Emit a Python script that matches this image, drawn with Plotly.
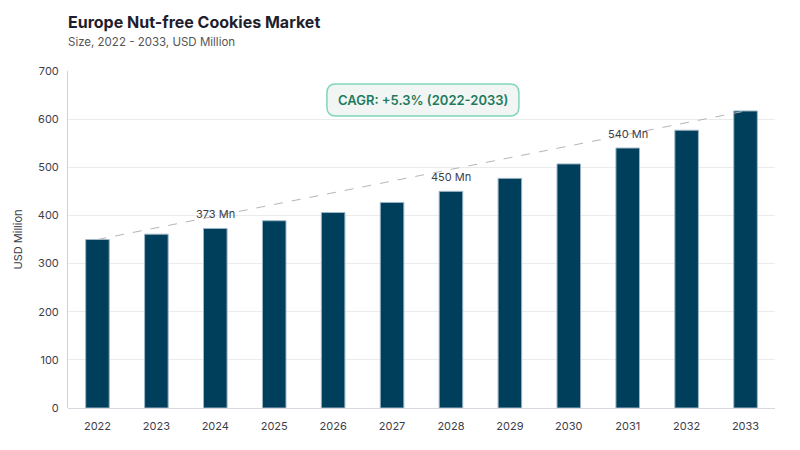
import plotly.graph_objects as go

# Market size data (USD Million)
years = ["2022", "2023", "2024", "2025", "2026", "2027", "2028", "2029", "2030", "2031", "2032", "2033"]
market_size = [350, 361, 373, 389, 406, 427, 450, 477, 507, 540, 577, 617]
label_years = ["2024", "2028", "2031"]
label_texts = ["373 Mn", "450 Mn", "540 Mn"]
cagr_text = "CAGR: +5.3% (2022-2033)"

FONT = "Inter"
BAR_COLOR = "#003f5c"

fig = go.Figure()

fig.add_trace(go.Bar(
    x=years, y=market_size,
    marker=dict(color=BAR_COLOR, line=dict(color="#9fb6c6", width=1)),
    width=0.4, hoverinfo="x+y", showlegend=False,
))

# dashed trend line from first to last bar top
fig.add_trace(go.Scatter(
    x=[years[0], years[-1]], y=[market_size[0], market_size[-1]],
    mode="lines", line=dict(color="#b5b5b5", width=1, dash="dash"),
    hoverinfo="skip", showlegend=False,
))

# value labels above selected bars (category index, string years get read as numbers)
for yr, txt in zip(label_years, label_texts):
    i = years.index(yr)
    fig.add_annotation(x=i, y=market_size[i], xref="x", yref="y", text=txt, showarrow=False,
                       yshift=14, font=dict(family=FONT, size=11, color="#3d3d4a"))

# rounded CAGR box
pw, ph = 707, 337
cx, cy = 0.502, 0.914
hw, hh = 96 / pw, 16 / ph
rx, ry = 9 / pw, 9 / ph
x0, x1, y0, y1 = cx - hw, cx + hw, cy - hh, cy + hh
path = (f"M {x0+rx},{y0} L {x1-rx},{y0} Q {x1},{y0} {x1},{y0+ry} "
        f"L {x1},{y1-ry} Q {x1},{y1} {x1-rx},{y1} L {x0+rx},{y1} "
        f"Q {x0},{y1} {x0},{y1-ry} L {x0},{y0+ry} Q {x0},{y0} {x0+rx},{y0} Z")
fig.add_shape(type="path", path=path, xref="paper", yref="paper",
              fillcolor="#f1f6f5", line=dict(color="#7fd6b9", width=1.5), layer="above")
fig.add_annotation(x=cx, y=cy, xref="paper", yref="paper", text=cagr_text, showarrow=False,
                   yanchor="middle", font=dict(family=FONT, size=13, color="#1f7a5c", weight=600))

# subtitle
fig.add_annotation(x=0, y=1 + 29 / ph, xref="paper", yref="paper", xanchor="left", yanchor="middle",
                   xshift=-2, text="Size, 2022 - 2033, USD Million", showarrow=False,
                   font=dict(family=FONT, size=11.5, color="#555555"))

# page body has an 8px margin, so plot margins are shifted back by 8
fig.update_layout(
    width=800, height=450,
    margin=dict(l=60, r=33, t=63, b=50, autoexpand=False),
    plot_bgcolor="white", paper_bgcolor="white",
    bargap=0.6,
    title=dict(
        text="<b>Europe Nut-free Cookies Market</b>",
        x=60 / 800, xref="container", xanchor="left", y=1 - 14 / 450, yanchor="middle",
        font=dict(family=FONT, size=16, color="#1e1e2e"),
    ),
    font=dict(family=FONT),
)

fig.update_xaxes(
    type="category", categoryorder="array", categoryarray=years, range=[-0.5, len(years) - 0.5],
    showgrid=False, showline=False, ticks="", automargin=False, ticklabelstandoff=10,
    tickfont=dict(family=FONT, size=11, color="#3d3d4a"),
)
fig.update_yaxes(
    range=[0, 700], dtick=100, showgrid=True, gridcolor="#ebebeb", automargin=False,
    showline=True, linecolor="#d0d0da", linewidth=1, ticklabelstandoff=6,
    zeroline=True, zerolinecolor="#d8d8e0", zerolinewidth=1,
    tickfont=dict(family=FONT, size=11, color="#3d3d4a"),
    title=dict(text="USD Million", font=dict(family=FONT, size=11, color="#3d3d4a"), standoff=12),
)

fig.write_html("out.html")
